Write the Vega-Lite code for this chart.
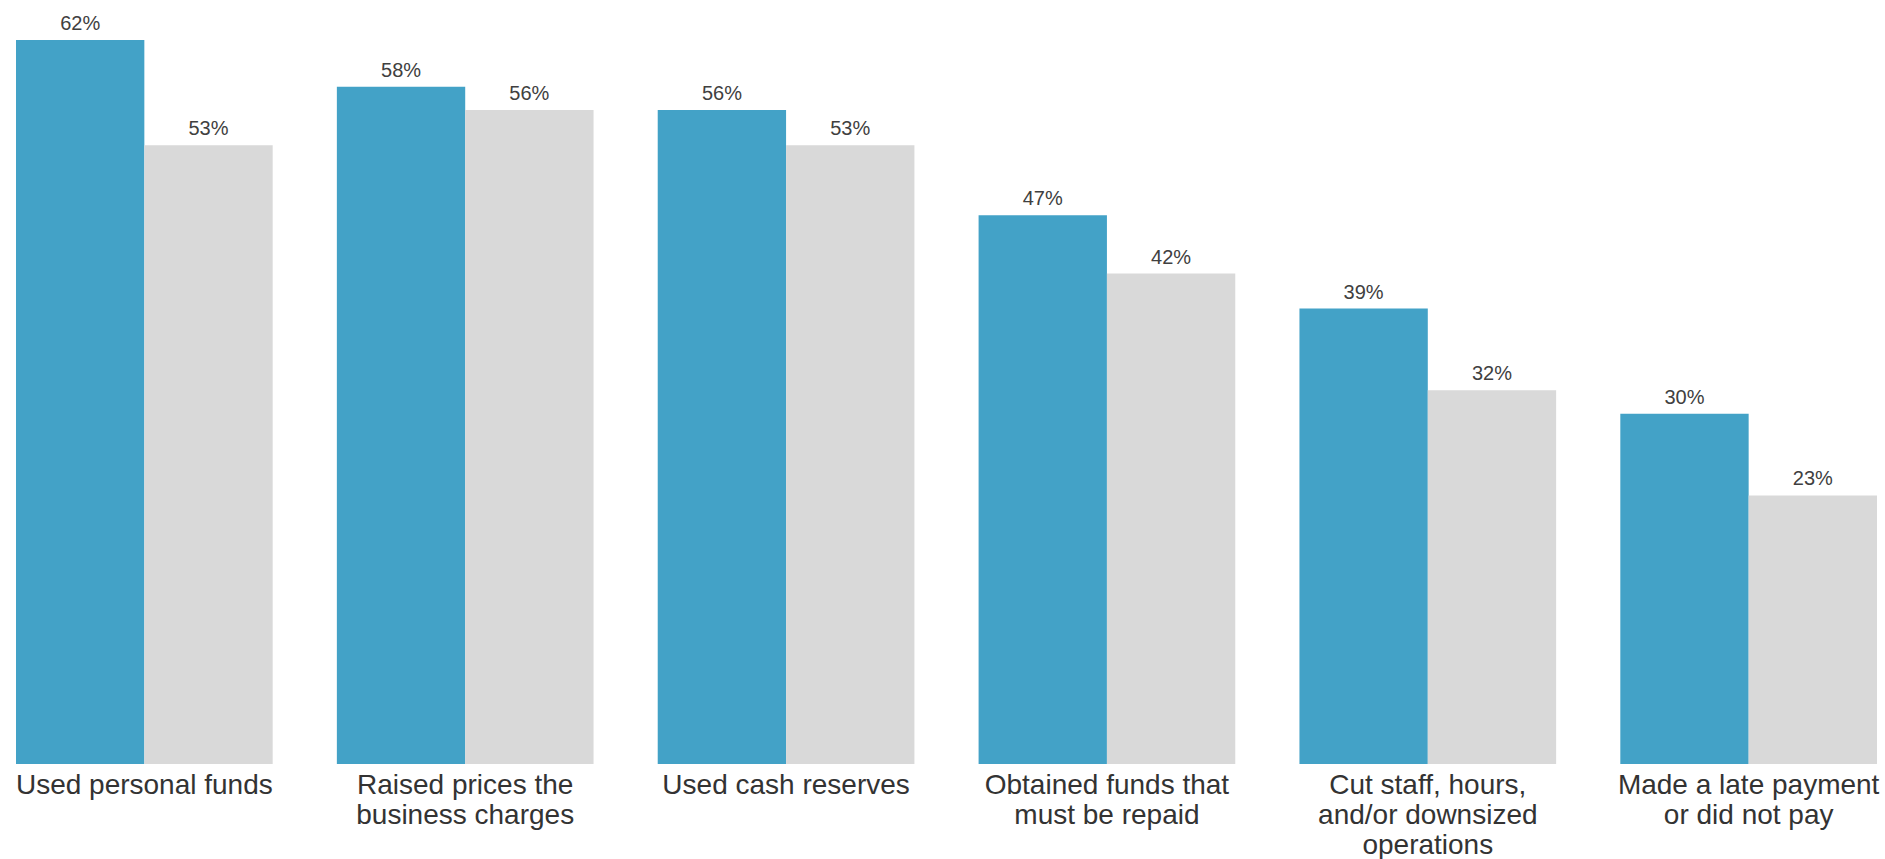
{
  "$schema": "https://vega.github.io/schema/vega-lite/v6.json",
  "width": 1861,
  "height": 764,
  "autosize": {"type": "none"},
  "padding": {"left": 16, "top": 0, "right": 8, "bottom": 95},
  "background": "white",
  "config": {"view": {"stroke": null}},
  "data": {
    "values": [
      {"category": "Used personal funds", "series": "Series 1", "value": 0.62},
      {"category": "Used personal funds", "series": "Series 2", "value": 0.53},
      {"category": "Raised prices the business charges", "series": "Series 1", "value": 0.58},
      {"category": "Raised prices the business charges", "series": "Series 2", "value": 0.56},
      {"category": "Used cash reserves", "series": "Series 1", "value": 0.56},
      {"category": "Used cash reserves", "series": "Series 2", "value": 0.53},
      {"category": "Obtained funds that must be repaid", "series": "Series 1", "value": 0.47},
      {"category": "Obtained funds that must be repaid", "series": "Series 2", "value": 0.42},
      {"category": "Cut staff, hours, and/or downsized operations", "series": "Series 1", "value": 0.39},
      {"category": "Cut staff, hours, and/or downsized operations", "series": "Series 2", "value": 0.32},
      {"category": "Made a late payment or did not pay", "series": "Series 1", "value": 0.30},
      {"category": "Made a late payment or did not pay", "series": "Series 2", "value": 0.23}
    ]
  },
  "encoding": {
    "x": {
      "field": "category",
      "type": "nominal",
      "sort": null,
      "scale": {"paddingInner": 0.2, "paddingOuter": 0},
      "axis": {
        "title": null,
        "domain": false,
        "ticks": false,
        "labelAngle": 0,
        "labelFont": "Liberation Sans",
        "labelFontSize": 28,
        "labelColor": "#333333",
        "labelLineHeight": 30,
        "labelPadding": 7,
        "labelLimit": 0,
        "labelOverlap": false,
        "labelExpr": "datum.value == 'Raised prices the business charges' ? ['Raised prices the', 'business charges'] : datum.value == 'Obtained funds that must be repaid' ? ['Obtained funds that', 'must be repaid'] : datum.value == 'Cut staff, hours, and/or downsized operations' ? ['Cut staff, hours,', 'and/or downsized', 'operations'] : datum.value == 'Made a late payment or did not pay' ? ['Made a late payment', 'or did not pay'] : datum.value"
      }
    },
    "xOffset": {"field": "series", "type": "nominal", "scale": {"paddingInner": 0, "paddingOuter": 0}},
    "y": {
      "field": "value",
      "type": "quantitative",
      "scale": {"domain": [0, 0.6543], "nice": false, "zero": true},
      "axis": null
    }
  },
  "layer": [
    {
      "mark": {"type": "bar"},
      "encoding": {
        "color": {
          "field": "series",
          "type": "nominal",
          "scale": {"domain": ["Series 1", "Series 2"], "range": ["#43A2C7", "#D9D9D9"]},
          "legend": null
        }
      }
    },
    {
      "mark": {
        "type": "text",
        "baseline": "alphabetic",
        "dy": -10,
        "font": "Liberation Sans",
        "fontSize": 20,
        "color": "#404040"
      },
      "encoding": {
        "text": {"field": "value", "type": "quantitative", "format": ".0%"}
      }
    }
  ]
}
